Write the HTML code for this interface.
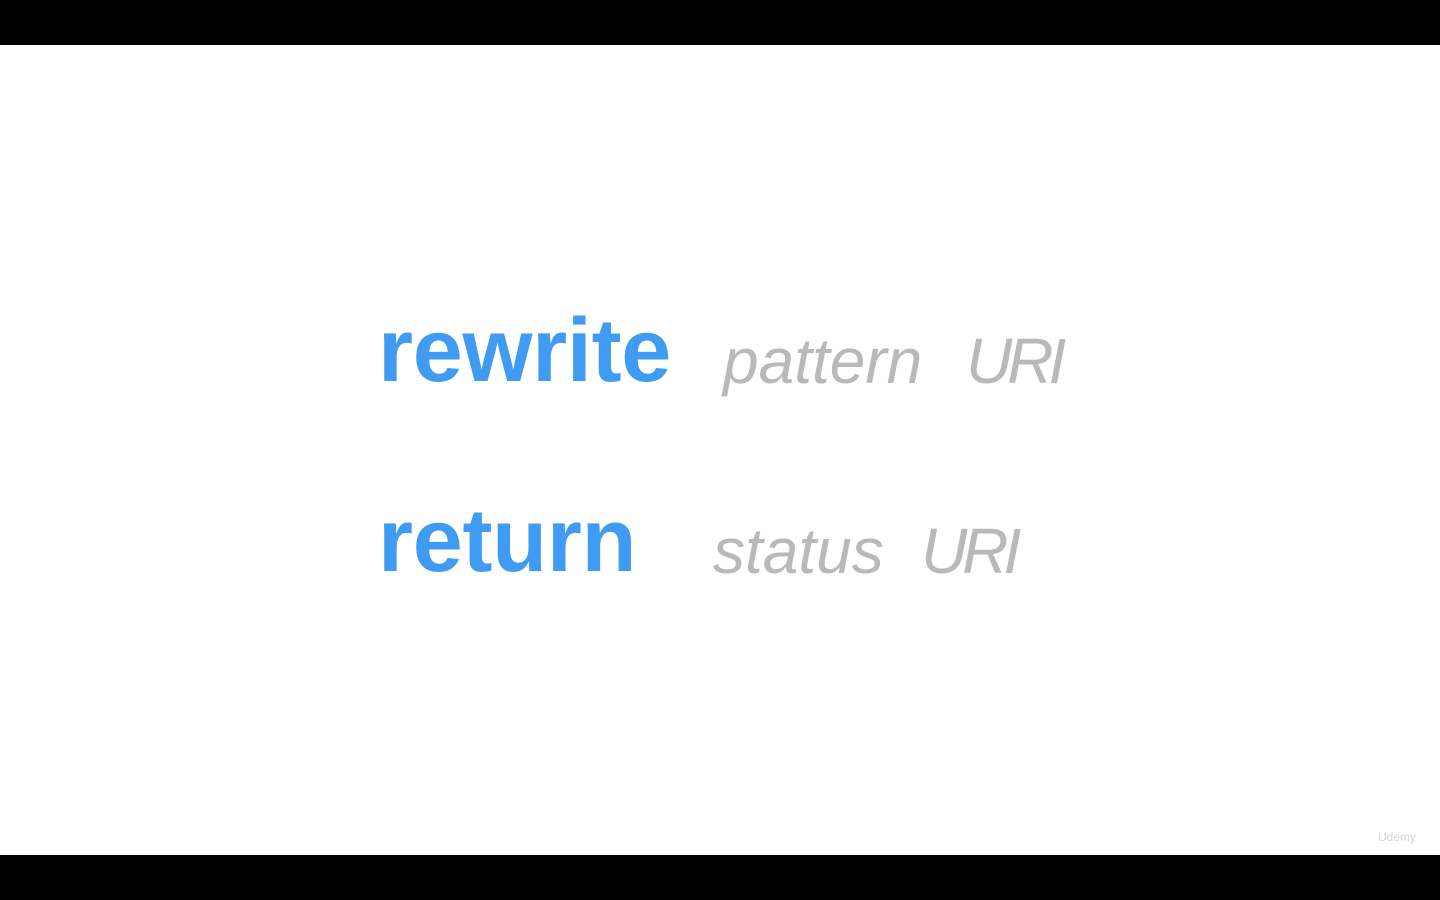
<!DOCTYPE html>
<html><head><meta charset="utf-8"><style>
html,body{margin:0;padding:0;width:1440px;height:900px;overflow:hidden;background:#000;}
.main{position:absolute;left:0;top:45px;width:1440px;height:810px;background:#fff;}
.t{position:absolute;white-space:nowrap;line-height:1;font-family:"Liberation Sans",sans-serif;}
.b{color:#3f9cf2;font-weight:bold;font-size:90px;letter-spacing:-0.3px;}
.g{color:#b9b9b9;font-style:italic;font-size:64px;}
</style></head><body>
<div class="main"></div>
<div class="t b" style="left:378px;top:306px;">rewrite</div>
<div class="t g" style="left:723px;top:329px;">pattern</div>
<div class="t g" style="left:966px;top:329px;letter-spacing:-5px;">URI</div>
<div class="t b" style="left:378px;top:496px;">return</div>
<div class="t g" style="left:713px;top:519px;">status</div>
<div class="t g" style="left:921px;top:519px;letter-spacing:-5px;">URI</div>
<div class="t" style="left:1378px;top:831px;font-size:12px;color:#d6d6d6;">Udemy</div>
</body></html>
